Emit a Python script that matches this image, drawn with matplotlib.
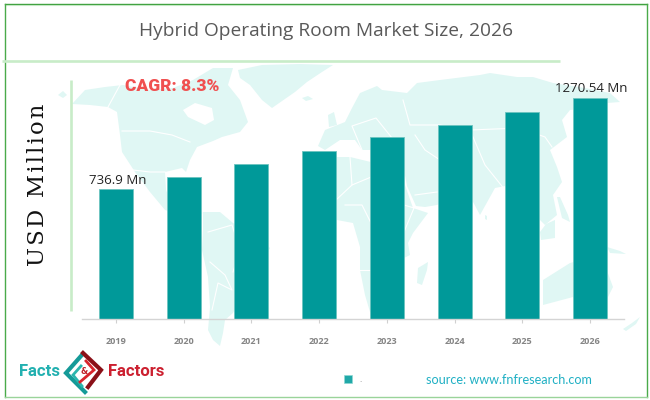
import matplotlib
matplotlib.use('Agg')
import matplotlib.pyplot as plt
from matplotlib.patches import Polygon, Rectangle

years = ['2019', '2020', '2021', '2022', '2023', '2024', '2025', '2026']
market_size = [736.9, 813, 889, 965, 1042, 1118, 1194, 1270.54]
first_label = '736.9 Mn'
last_label = '1270.54 Mn'
axis_bottom = -22.5
axis_top = 1379

teal = '#009999'
pale = '#e0f7f4'
soft_green = '#c8ecc8'

# background map, rough outlines in picture pixels
north_america = [(72, 104), (85, 90), (105, 87), (123, 85), (150, 90), (173, 88), (193, 80), (213, 68), (233, 68),
                 (228, 85), (240, 100), (248, 122), (240, 132), (222, 137), (213, 141), (197, 147), (190, 160),
                 (186, 172), (182, 168), (165, 172), (166, 190), (172, 205), (185, 208), (203, 213), (190, 218),
                 (165, 210), (150, 192), (135, 172), (122, 152), (120, 135), (117, 112), (108, 107), (90, 105)]
hudson_bay = [(183, 110), (195, 103), (212, 108), (214, 120), (205, 125), (188, 117)]
greenland = [(238, 70), (262, 65), (300, 64), (333, 65), (322, 72), (307, 82), (295, 92), (272, 108), (262, 100),
             (250, 85), (240, 78)]
south_america = [(203, 212), (220, 212), (233, 223), (255, 235), (270, 248), (260, 267), (245, 290), (233, 313),
                 (225, 320), (223, 333), (220, 346), (213, 340), (208, 330), (210, 307), (208, 277), (202, 250),
                 (203, 230)]
eurasia = [(360, 93), (377, 86), (382, 90), (407, 93), (417, 83), (440, 80), (480, 75), (490, 73), (517, 77),
           (533, 77), (553, 83), (585, 88), (610, 93), (620, 102), (607, 103), (598, 118), (590, 108), (570, 110),
           (562, 120), (567, 137), (550, 150), (557, 167), (562, 182), (553, 195), (557, 215), (545, 225),
           (535, 215), (525, 200), (505, 186), (495, 188), (480, 215), (472, 200), (462, 190), (450, 198), (437, 205),
           (425, 207), (416, 206), (407, 186), (403, 165), (385, 150), (362, 150), (355, 140), (340, 140), (325, 150),
           (318, 146), (325, 130), (345, 122), (352, 108)]
africa = [(312, 170), (322, 158), (337, 157), (350, 157), (375, 163), (401, 162), (405, 185), (413, 208), (428, 213),
          (413, 233), (408, 243), (410, 255), (404, 258), (395, 295), (380, 312), (370, 312), (365, 295), (360, 270),
          (360, 247), (353, 223), (337, 220), (318, 215), (308, 195)]
australia = [(543, 280), (570, 263), (590, 258), (606, 268), (613, 287), (603, 307), (573, 297), (543, 305)]
islands = [[(58, 95), (63, 91), (67, 95), (63, 98)], [(302, 98), (308, 96), (313, 99), (306, 101)],
           [(328, 115), (334, 112), (337, 125), (329, 127)], [(540, 232), (546, 224), (555, 220), (555, 238), (541, 240)],
           [(557, 197), (560, 197), (568, 215), (570, 222), (562, 218)], [(607, 247), (620, 251), (626, 254), (610, 253)],
           [(623, 329), (632, 323), (640, 317), (636, 324), (626, 331)], [(485, 215), (487, 216), (487, 220), (485, 219)],
           [(428, 262), (427, 270), (422, 285), (417, 283), (418, 268)]]
borders = [[(108, 107), (120, 85)], [(122, 131), (150, 131), (172, 135), (190, 142)],
           [(133, 170), (150, 172), (165, 172)], [(208, 232), (232, 225), (240, 250), (233, 272)],
           [(210, 262), (225, 275), (232, 290), (218, 283), (212, 310)], [(362, 150), (352, 126), (376, 118), (392, 138)],
           [(350, 157), (352, 185), (336, 200)], [(352, 185), (376, 175), (403, 182)],
           [(403, 100), (410, 125), (440, 125), (470, 130), (520, 128), (545, 137), (552, 147)],
           [(415, 135), (425, 150), (440, 160), (462, 185)], [(470, 130), (485, 165), (505, 190)],
           [(345, 205), (362, 205), (372, 225)], [(360, 270), (372, 270)],
           [(415, 195), (437, 192)], [(404, 205), (414, 208), (404, 232)]]

fig = plt.figure(figsize=(6.5, 4), dpi=100)
bg = fig.add_axes([0, 0, 1, 1])
bg.set_xlim(0, 650)
bg.set_ylim(400, 0)
bg.axis('off')

for shape in [north_america, greenland, south_america, eurasia, africa, australia] + islands:
    bg.add_patch(Polygon(shape, closed=True, fc=pale, ec='none'))
bg.add_patch(Polygon(hudson_bay, closed=True, fc='white', ec='none'))
for line in borders:
    bg.plot([p[0] for p in line], [p[1] for p in line], color='white', lw=0.8)

# frame and green rules
bg.plot([4.5, 647], [4, 4], color='#3a9e3a', lw=1)
bg.plot([4.5, 647], [5, 5], color='#c4e8c4', lw=0.8)
bg.plot([4.5, 4.5], [4, 396.5], color='#4aaa4a', lw=1)
bg.plot([647, 647], [4, 396.5], color='#4aaa4a', lw=1)
bg.plot([4.5, 647], [396.5, 396.5], color='#9ad49a', lw=1)
bg.plot([2, 560], [60.5, 60.5], color=soft_green, lw=1.9, solid_capstyle='butt')
bg.plot([70.5, 70.5], [80, 311], color=soft_green, lw=1.9, solid_capstyle='butt')

# bars
ax = fig.add_axes([82 / 650, 1 - 319 / 400, 542 / 650, 239 / 400])
ax.patch.set_alpha(0)
x = list(range(len(years)))
ax.bar(x, [v - axis_bottom for v in market_size], bottom=axis_bottom, width=0.5, color=teal,
       edgecolor='#6cc4c0', linewidth=0.6)
ax.set_xlim(-0.5, 7.5)
ax.set_ylim(axis_bottom, axis_top)
ax.set_xticks(x)
ax.set_xticklabels(years, fontsize=6.6, fontweight='bold', color='#858585', family='Open Sans')
ax.tick_params(axis='x', length=3, width=0.8, color='#d0d0d0', pad=10)
ax.set_yticks([])
for s in ['top', 'left', 'right']:
    ax.spines[s].set_visible(False)
ax.spines['bottom'].set_color('#d4d4d4')
ax.spines['bottom'].set_linewidth(1)

ax.annotate(first_label, (0, market_size[0]), xytext=(1.2, 1.5), textcoords='offset points', ha='center',
            va='bottom', fontsize=9.5, color='#222222', family='Open Sans')
ax.annotate(last_label, (7, market_size[7]), xytext=(1, 2.5), textcoords='offset points', ha='center',
            va='bottom', fontsize=9.5, color='#222222', family='Open Sans')

# text
bg.text(326, 31, 'Hybrid Operating Room Market Size, 2026', ha='center', va='center', fontsize=13.75,
        color='#595959', family='Open Sans')
bg.text(172, 86, 'CAGR: 8.3%', ha='center', va='center', fontsize=12.5, fontweight='heavy', color='#f05050',
        family='Roboto')
bg.text(38, 185, '\u200a'.join('USD Million'), rotation=90, ha='center', va='center', fontsize=16.3,
        color='#111111', family='DejaVu Serif')

# logo
bg.text(19, 371, 'Facts', ha='left', va='center', fontsize=12, fontweight='bold', color='#22b0b0',
        family='Roboto')
bg.text(108, 371, 'Factors', ha='left', va='center', fontsize=12, fontweight='bold', color='#cc2030',
        family='Roboto')
bg.plot([81, 66, 85], [356, 373, 392], color='#159a98', lw=3, solid_joinstyle='miter')
bg.plot([81, 73, 82], [366, 375, 386], color='#2ab5ad', lw=2, solid_joinstyle='miter')
bg.plot([83, 101, 88], [353, 370, 387], color='#8a1018', lw=3, solid_joinstyle='miter')
bg.plot([86, 94, 80], [361, 370, 382], color='#d8242c', lw=2, solid_joinstyle='miter')
bg.text(84, 372, '&', ha='center', va='center', fontsize=6, fontweight='bold', color='#c02028')

# legend and source
bg.add_patch(Rectangle((343.5, 375), 8, 8, fc='#20a8a8', ec='#90d8d4', lw=0.5))
bg.text(360, 380, '.', ha='center', va='center', fontsize=5, color='#888888')
bg.text(426, 380, 'source: www.fnfresearch.com', ha='left', va='center', fontsize=9.05, color='#20b0c4',
        family='Lato')

fig.savefig('out.png', dpi=100)
